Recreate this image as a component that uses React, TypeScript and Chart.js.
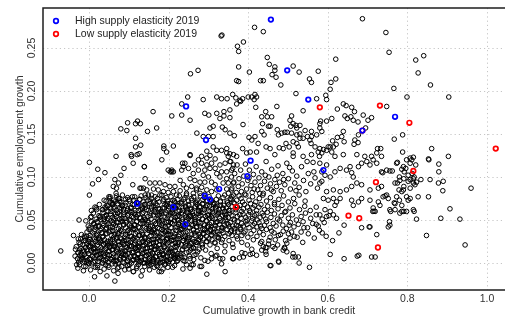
import { useEffect, useRef } from "react";
import { Chart, registerables } from "chart.js";

Chart.register(...registerables);

// Scatter of counties: cumulative growth in bank credit (x) vs cumulative employment growth (y).
// Values are stored as flat [x, y, x, y, ...] lists.

const upperLeft = [
  .332,.264, .334,.265, .373,.252, .388,.257, .376,.246, .376,.228, .403,.222, .371,.212, .376,.211, .255,.220,
  .274,.224, .233,.185, .248,.193, .233,.172, .208,.171, .254,.166, .287,.190, .291,.174, .301,.172, .321,.193,
  .333,.191, .347,.191, .361,.196, .369,.192, .379,.189, .386,.191, .400,.193, .371,.185, .381,.188, .339,.176,
  .354,.178, .321,.174, .329,.168, .339,.171, .354,.169, .387,.161, .312,.159, .304,.157, .335,.158, .342,.155,
  .354,.151, .365,.148, .271,.151, .287,.147, .300,.147, .312,.147, .402,.146, .386,.133, .312,.135, .321,.131,
  .333,.131, .346,.133, .296,.130, .254,.125, .283,.124, .296,.122, .346,.128, .354,.127, .363,.126, .371,.124,
  .396,.128, .405,.129, .161,.176, .170,.157, .147,.153, .122,.165, .117,.162, .129,.162, .097,.163, .095,.154,
  .080,.156, .117,.145, .117,.135, .130,.137, .188,.136, .188,.133, .195,.129, .212,.136, .106,.126, .126,.127,
  .068,.124, .350,.124, .304,.125, .317,.121,
];

const upperRight = [
  .416,.274, .438,.269, .687,.284, .746,.268, .754,.245, .821,.236, .841,.241, .827,.221, .858,.207, .904,.193,
  .799,.193, .766,.203, .620,.237, .620,.214, .608,.210, .606,.202, .595,.195, .597,.190, .513,.229, .528,.222,
  .576,.223, .448,.239, .453,.231, .467,.228, .467,.224, .460,.219, .470,.216, .431,.212, .438,.212, .482,.207,
  .554,.214, .559,.210, .520,.197, .572,.191, .538,.177, .417,.196, .421,.193, .409,.193, .415,.190, .419,.181,
  .472,.182, .444,.176, .434,.170, .448,.170, .459,.170, .436,.162, .451,.159, .455,.159, .509,.171, .505,.166,
  .513,.162, .507,.159, .520,.160, .530,.160, .522,.157, .473,.155, .484,.151, .492,.152, .498,.152, .476,.149,
  .509,.151, .522,.149, .530,.150, .543,.154, .559,.153, .572,.149, .559,.147, .580,.162, .580,.157, .582,.165,
  .597,.165, .610,.168, .585,.153, .624,.179, .639,.185, .646,.183, .660,.181, .667,.176, .658,.170, .676,.164,
  .664,.166, .643,.171, .649,.168, .689,.172, .710,.169, .701,.166, .748,.182, .695,.157, .624,.146, .639,.153,
  .635,.147, .612,.142, .621,.138, .614,.135, .641,.141, .606,.135, .677,.149, .668,.143, .666,.138, .676,.140,
  .788,.149, .767,.144, .861,.133, .903,.124, .788,.129, .725,.133, .733,.133, .723,.128, .853,.121, .807,.122,
  .815,.123, .568,.135, .580,.133, .589,.132, .597,.131, .585,.128, .576,.129, .601,.135, .610,.129, .555,.143,
  .549,.147, .538,.145, .558,.139, .513,.141, .522,.139, .530,.145, .526,.135, .503,.135, .495,.139, .488,.133,
  .478,.134, .434,.153, .440,.149, .417,.147, .425,.139, .409,.143, .445,.135, .455,.133, .467,.126, .421,.129,
  .513,.128, .513,.124, .538,.124, .559,.126, .579,.124, .618,.124, .639,.126, .673,.126, .693,.124, .710,.124,
  .735,.124,
];

const leftEdge = [
  .001,.117, .001,.079, .009,.092, .022,.109, .024,.097, .040,.105, .080,.102, .088,.110, .053,.077, .065,.097,
  .074,.093, .061,.089, .068,.081, .111,.116, .121,.126, .139,.112, .107,.124, .110,.091, .115,.077, .015,.065,
  .019,.062, .028,.054, .183,.120, .204,.106, .208,.108, .212,.106, .235,.116, .254,.126, .069,.087, .131,.087,
  -.071,.014, -.039,.032, -.025,.050, -.008,.049, .018,.064, .043,.064, .052,.075, .065,.071, .077,.075,
  .014,-.016, .045,-.015, .065,-.021, .073,-.012, .111,-.010, .131,-.015, .182,-.010, .254,-.006, .296,-.013,
  .333,-.001, .363,.005, .342,-.010, .329,.005, .321,.009, .308,.005, .291,.003, .283,-.004, .262,-.002,
  .245,-.002, .237,.003, .254,.005, .229,.009, .212,.007, .195,.003, .162,.002, .153,.000, .178,.000, .216,.005,
];

const farRight = [
  .960,.087, .945,.021, .932,.051, .907,.063, .884,.052, .848,.032, .823,.051, .817,.060, .786,.060, .791,.060,
  .767,.070, .773,.077, .798,.077, .786,.083, .827,.077, .853,.077, .889,.084, .878,.093, .890,.095, .857,.097,
  .834,.097, .802,.095, .791,.089, .779,.085, .775,.093, .780,.100, .791,.098, .812,.104, .817,.100, .807,.097,
  .815,.093, .773,.116, .786,.109, .792,.106, .796,.110, .811,.120, .821,.114, .854,.120, .879,.115, .879,.106,
  .756,.107, .762,.107, .738,.105, .748,.079, .755,.048, .752,.042, .744,.078, .739,.077, .716,.060, .713,.060,
  .723,.033, .719,.007, .710,.007, .678,.009, .674,.008, .641,.005, .606,.010, .641,.044, .685,.041, .704,.042,
  .554,-.005, .528,.000, .477,.001, .457,-.003, .445,.010, .411,.011, .444,.018, .434,.015, .497,.013, .512,.007,
  .491,.018, .526,.007, .802,.073, .769,.069, .780,.073, .758,.060,
];

const bottomCentre = [
  .455,-.003, .476,.002, .361,.005, .378,.006, .388,.007, .392,.011, .405,.010, .421,.009, .444,.013, .447,.018,
  .438,.019, .434,.025, .451,.022, .462,.019, .467,.017, .488,.015, .492,.017, .497,.023, .505,.029, .513,.011,
  .518,.007, .468,.027, .481,.033, .494,.026, .509,.036, .523,.030, .537,.024, .551,.034, .566,.029, .579,.038,
  .596,.031, .612,.026, .628,.035, .540,.041, .503,.044, .571,.045, .459,.037,
];

const lowRight = [
  .589,.075, .601,.073, .614,.075, .622,.071, .631,.075, .618,.067, .593,.062, .606,.060, .580,.056, .597,.054,
  .614,.056, .622,.052, .660,.073, .664,.067, .677,.071, .685,.075, .706,.073, .714,.064, .719,.060, .727,.071,
  .731,.067, .752,.075, .756,.062, .769,.062, .781,.058, .786,.067, .798,.060, .815,.062, .807,.075, .756,.044,
  .706,.042, .586,.035,
];

const midBandLeft = [
  .275,.120, .283,.116, .296,.114, .308,.116, .266,.114, .241,.116, .237,.112, .250,.110, .275,.108, .291,.108,
  .304,.110, .317,.110, .329,.114, .342,.116, .354,.118, .363,.114, .139,.112, .199,.108, .208,.106, .233,.108,
  .262,.104, .287,.102, .300,.100, .321,.104, .333,.106, .346,.106, .358,.108, .329,.100, .346,.098, .358,.100,
  .254,.098, .266,.096, .279,.094, .291,.094, .308,.094, .317,.091, .337,.093, .350,.093, .363,.093, .141,.098,
  .153,.093, .166,.093, .178,.093, .191,.091, .203,.089, .216,.089, .229,.096, .237,.091, .245,.087, .258,.089,
  .270,.087, .283,.088, .296,.085, .308,.083, .321,.085, .346,.086, .358,.085, .128,.087, .137,.087, .145,.085,
  .162,.086, .174,.085, .187,.083, .199,.082, .212,.083, .229,.084, .245,.081, .262,.081, .279,.081, .291,.080,
  .350,.081, .363,.079, .141,.079, .157,.079, .178,.079, .220,.079, .270,.085,
];

const midBandCentre = [
  .356,.118, .361,.110, .366,.104, .372,.114, .377,.098, .381,.108, .385,.092, .389,.101, .393,.115, .396,.086,
  .399,.096, .403,.108, .407,.090, .410,.082, .413,.103, .417,.094, .420,.112, .424,.085, .427,.099, .431,.090,
  .434,.106, .438,.081, .441,.095, .445,.118, .448,.087, .452,.100, .456,.092, .459,.109, .463,.083, .467,.097,
  .471,.089, .475,.113, .479,.094, .483,.084, .487,.104, .492,.091, .497,.116, .501,.098, .506,.086, .511,.107,
  .517,.093, .522,.101, .528,.088, .534,.112, .539,.096, .545,.083, .551,.104, .557,.092, .563,.117, .568,.099,
  .574,.087, .359,.087, .364,.094, .370,.082, .375,.089, .383,.083, .391,.080, .402,.099, .415,.086, .429,.081,
  .443,.102, .458,.085, .473,.102, .489,.097, .504,.111, .520,.084, .548,.118, .565,.106, .585,.095,
];

const midBandRight = [
  .580,.116, .597,.114, .585,.106, .593,.102, .606,.100, .618,.106, .631,.110, .647,.108, .656,.112, .660,.105,
  .664,.100, .677,.112, .685,.116, .698,.118, .706,.114, .714,.120, .723,.116, .735,.106, .748,.108, .775,.117,
  .798,.120, .807,.116, .790,.112, .802,.102, .815,.098, .823,.094, .781,.096, .769,.093, .735,.089, .727,.087,
  .706,.085, .685,.091, .673,.093, .660,.089, .647,.085, .631,.083, .614,.085, .597,.083, .580,.093, .790,.085,
  .807,.087, .819,.091,
];

// Dense core, one list per 0.01-wide employment-growth band.
const coreBelowZero = [
  -.028,-.006, -.024,-.002, -.014,-.009, -.008,-.004, .000,-.001, .004,-.008, .016,-.005, .022,-.003, .028,-.010,
  .038,-.007, .042,-.002, .050,-.005, .062,-.009, .066,-.001, .072,-.006, .082,-.004, .090,-.008, .096,-.003,
  .100,-.007, .112,-.010, .120,-.006, .124,-.002, .134,-.009, .140,-.004, .148,-.001, .152,-.008, .164,-.005,
  .170,-.003, .176,-.010, .186,-.007, .190,-.002, .198,-.005, .215,-.003, .236,-.007, .258,-.002, .279,-.004,
];

const core00 = [
  -.035,.008, -.029,.005, -.026,.001, -.023,.009, -.018,.004, -.016,.006, -.012,.002, -.006,.007, -.004,.003,
  -.001,.000, .004,.004, .008,.008, .011,.001, .013,.006, .019,.009, .023,.002, .025,.005, .030,.007, .033,.000,
  .037,.003, .039,.008, .045,.005, .048,.001, .051,.009, .056,.004, .058,.006, .062,.002, .068,.007, .070,.003,
  .073,.000, .078,.004, .082,.008, .085,.001, .087,.006, .093,.009, .097,.002, .099,.005, .104,.007, .107,.000,
  .111,.003, .113,.008, .119,.004, .122,.006, .125,.002, .130,.007, .132,.003, .136,.000, .142,.004, .144,.008,
  .147,.001, .152,.006, .156,.009, .159,.002, .161,.005, .167,.007, .171,.000, .173,.003, .178,.008, .181,.005,
  .185,.001, .187,.009, .193,.007, .196,.003, .199,.000, .204,.004, .206,.008, .210,.001, .216,.006, .218,.009,
  .221,.002, .226,.005, .233,.007, .241,.002, .252,.008, .263,.004, .281,.006, .299,.002, .318,.008, .336,.005,
];

const core01 = [
  -.034,.016, -.032,.019, -.027,.012, -.024,.015, -.020,.017, -.018,.010, -.012,.013, -.009,.018, -.006,.015,
  -.001,.011, .001,.019, .005,.014, .011,.016, .013,.012, .016,.017, .021,.013, .025,.010, .028,.014, .030,.018,
  .036,.011, .038,.015, .043,.017, .046,.010, .050,.013, .052,.018, .058,.015, .061,.011, .064,.019, .069,.014,
  .071,.016, .075,.012, .081,.017, .083,.013, .086,.010, .091,.014, .095,.018, .098,.011, .100,.016, .106,.019,
  .110,.012, .112,.013, .117,.018, .120,.015, .124,.011, .126,.019, .132,.014, .135,.016, .138,.012, .143,.017,
  .145,.013, .149,.010, .155,.014, .157,.018, .160,.011, .165,.016, .169,.019, .172,.012, .174,.015, .180,.017,
  .184,.010, .186,.011, .191,.019, .194,.014, .198,.016, .200,.012, .206,.017, .209,.013, .212,.010, .217,.014,
  .219,.018, .223,.011, .235,.016, .239,.019, .245,.012, .255,.015, .263,.017, .269,.010, .273,.013, .285,.018,
  .293,.015, .307,.011, .322,.017, .341,.013, .362,.018, .384,.012, .409,.016,
];

const core02 = [
  -.025,.024, -.021,.028, -.015,.021, -.013,.026, -.010,.029, -.005,.022, -.001,.025, .002,.027, .004,.020,
  .010,.023, .014,.028, .016,.025, .021,.021, .024,.029, .028,.024, .030,.026, .036,.022, .039,.027, .042,.023,
  .047,.020, .049,.022, .053,.025, .059,.027, .061,.020, .064,.023, .069,.028, .073,.025, .076,.021, .078,.029,
  .084,.024, .088,.026, .090,.022, .095,.027, .098,.023, .102,.020, .104,.024, .110,.028, .113,.021, .116,.026,
  .121,.029, .123,.020, .127,.023, .133,.028, .135,.025, .138,.021, .143,.029, .147,.024, .150,.026, .152,.022,
  .158,.027, .162,.023, .164,.020, .169,.024, .172,.028, .176,.021, .178,.026, .184,.029, .187,.022, .190,.025,
  .195,.027, .197,.029, .201,.024, .207,.026, .209,.022, .212,.027, .217,.023, .221,.020, .224,.024, .226,.028,
  .232,.021, .236,.026, .238,.029, .243,.022, .246,.025, .250,.027, .252,.020, .258,.023, .261,.028, .264,.025,
  .269,.021, .271,.024, .277,.027, .283,.022, .289,.028, .296,.025, .304,.021, .309,.027, .317,.023, .326,.029,
  .333,.024, .342,.020, .352,.026, .361,.022, .373,.028, .384,.024, .398,.021, .413,.027, .431,.023, .452,.026,
  .474,.021,
];

const core03 = [
  -.012,.031, -.005,.036, .000,.039, .003,.032, .009,.035, .013,.037, .018,.030, .021,.033, .028,.038, .032,.035,
  .036,.031, .042,.039, .045,.034, .050,.036, .057,.032, .060,.037, .064,.033, .070,.030, .075,.034, .079,.038,
  .082,.037, .089,.030, .092,.033, .098,.038, .102,.035, .107,.031, .110,.039, .117,.034, .121,.036, .125,.032,
  .131,.037, .134,.033, .139,.030, .146,.034, .149,.038, .153,.031, .159,.036, .164,.039, .168,.032, .171,.035,
  .178,.031, .183,.039, .186,.034, .192,.036, .196,.032, .201,.037, .204,.033, .211,.030, .215,.034, .219,.038,
  .225,.031, .228,.036, .233,.039, .240,.032, .243,.035, .247,.037, .253,.030, .258,.033, .262,.038, .265,.035,
  .272,.037, .277,.033, .280,.030, .286,.034, .290,.038, .295,.031, .298,.036, .305,.039, .309,.032, .313,.035,
  .319,.037, .322,.030, .327,.033, .334,.038, .337,.035, .341,.031, .347,.039, .352,.034, .356,.036, .359,.032,
  .366,.037, .371,.031, .374,.036, .380,.039, .384,.032, .389,.035, .392,.037, .399,.030, .407,.034, .414,.038,
  .422,.031, .429,.036, .438,.033, .446,.039, .455,.030, .465,.035, .476,.032, .488,.037, .501,.034, .516,.031,
  .533,.036,
];

const core04 = [
  -.002,.043, .006,.048, .012,.046, .016,.042, .022,.047, .025,.043, .030,.040, .037,.044, .040,.048, .044,.041,
  .050,.046, .055,.049, .059,.042, .062,.045, .069,.047, .074,.040, .077,.043, .083,.048, .087,.045, .092,.041,
  .095,.049, .102,.044, .106,.043, .112,.040, .115,.044, .120,.048, .127,.041, .130,.046, .134,.049, .140,.042,
  .145,.045, .149,.047, .152,.040, .159,.043, .164,.048, .167,.045, .173,.041, .177,.049, .182,.044, .185,.046,
  .192,.042, .196,.047, .200,.048, .206,.041, .209,.046, .214,.049, .221,.042, .224,.045, .228,.047, .234,.040,
  .239,.043, .243,.048, .246,.045, .253,.041, .258,.049, .261,.044, .267,.046, .271,.042, .276,.047, .279,.043,
  .286,.040, .290,.044, .294,.049, .300,.042, .303,.045, .308,.047, .315,.040, .318,.043, .322,.048, .328,.045,
  .333,.041, .337,.049, .340,.044, .347,.046, .352,.042, .355,.047, .361,.043, .365,.040, .370,.044, .373,.048,
  .380,.041, .384,.046, .388,.043, .394,.048, .397,.045, .402,.041, .409,.049, .412,.044, .416,.046, .422,.042,
  .427,.047, .431,.043, .434,.040, .441,.044, .446,.048, .455,.041, .463,.046, .470,.043, .479,.049, .487,.044,
  .496,.040, .506,.047, .515,.042, .526,.045, .538,.048, .549,.041, .562,.046, .576,.043, .591,.047,
];

const core05 = [
  .004,.053, .011,.058, .018,.051, .025,.055, .029,.051, .035,.059, .040,.054, .044,.056, .047,.052, .054,.057,
  .059,.053, .062,.050, .068,.054, .072,.058, .077,.051, .080,.056, .087,.059, .091,.052, .097,.055, .100,.057,
  .105,.050, .112,.053, .115,.058, .119,.054, .123,.056, .129,.052, .134,.057, .138,.053, .141,.050, .148,.054,
  .153,.058, .156,.051, .162,.056, .166,.059, .171,.052, .174,.055, .181,.057, .185,.050, .191,.053, .194,.058,
  .199,.055, .206,.051, .209,.059, .213,.057, .217,.053, .223,.050, .228,.054, .232,.058, .235,.051, .242,.056,
  .247,.059, .250,.052, .256,.055, .260,.057, .265,.050, .268,.053, .275,.058, .279,.055, .285,.051, .288,.059,
  .293,.054, .300,.056, .303,.052, .307,.054, .311,.058, .317,.051, .322,.056, .326,.059, .329,.052, .336,.055,
  .341,.057, .344,.050, .350,.053, .354,.058, .359,.055, .362,.051, .369,.059, .373,.054, .379,.056, .382,.052,
  .387,.057, .394,.053, .397,.050, .401,.056, .405,.059, .411,.052, .416,.055, .420,.057, .423,.050, .430,.053,
  .435,.058, .438,.055, .444,.051, .448,.059, .457,.053, .466,.057, .474,.051, .483,.055, .492,.059, .501,.052,
  .511,.056, .521,.050, .533,.054, .544,.058, .557,.052, .571,.056, .586,.051, .603,.055,
];

const core06 = [
  .006,.061, .026,.068, .033,.062, .040,.065, .045,.067, .048,.060, .055,.063, .059,.068, .063,.065, .069,.061,
  .072,.069, .077,.064, .084,.066, .087,.062, .091,.067, .097,.063, .102,.060, .106,.064, .109,.068, .116,.061,
  .121,.066, .124,.069, .130,.062, .134,.063, .139,.068, .142,.065, .149,.061, .153,.069, .157,.064, .163,.066,
  .166,.062, .171,.067, .178,.063, .181,.060, .185,.064, .191,.068, .196,.061, .200,.066, .203,.069, .210,.062,
  .215,.065, .218,.067, .224,.060, .228,.061, .233,.069, .236,.064, .243,.066, .247,.062, .251,.067, .257,.063,
  .260,.060, .265,.064, .272,.068, .275,.061, .279,.066, .285,.069, .290,.062, .294,.065, .297,.067, .304,.060,
  .309,.063, .312,.068, .318,.065, .322,.066, .327,.062, .330,.067, .337,.063, .341,.060, .345,.064, .351,.068,
  .354,.061, .359,.066, .366,.069, .369,.062, .373,.065, .379,.067, .384,.060, .388,.063, .391,.068, .398,.065,
  .403,.061, .406,.069, .412,.064, .416,.067, .421,.061, .427,.065, .432,.068, .441,.062, .449,.066, .458,.061,
  .466,.068, .475,.063, .485,.067, .494,.060, .505,.064, .517,.069, .529,.062, .542,.066, .556,.061, .571,.065,
];

const core07 = [
  .043,.072, .050,.077, .058,.070, .062,.073, .069,.078, .074,.075, .080,.071, .084,.079, .092,.074, .097,.076,
  .102,.072, .109,.077, .113,.073, .119,.070, .127,.074, .131,.078, .136,.071, .143,.076, .149,.079, .154,.072,
  .158,.075, .166,.077, .172,.075, .176,.071, .183,.079, .188,.074, .194,.076, .198,.072, .206,.077, .211,.073,
  .216,.070, .223,.074, .227,.078, .233,.071, .241,.076, .245,.079, .250,.072, .257,.075, .263,.077, .268,.070,
  .272,.073, .280,.078, .286,.074, .290,.076, .297,.072, .302,.077, .308,.073, .312,.070, .320,.074, .325,.078,
  .330,.071, .337,.076, .341,.079, .347,.072, .355,.075, .359,.077, .364,.070, .371,.073, .377,.078, .382,.075,
  .386,.071, .394,.079, .402,.073, .411,.077, .419,.071, .428,.075, .437,.079, .446,.072, .456,.076, .466,.070,
  .477,.074, .489,.078, .501,.071, .514,.075, .528,.079, .543,.072,
];

// Second layer of the dense core, in 0.02-wide bands.
const coreFillA = [
  -.031,-.002, -.028,.012, -.023,.004, -.019,.007, -.013,-.004, -.011,.010, -.006,.001, -.003,.014, .001,.005,
  .007,-.001, .010,.008, .015,.002, .017,.013, .021,-.005, .027,.006, .030,.011, .035,.000, .039,.009, .042,.003,
  .048,-.003, .050,.014, .053,.005, .058,-.001, .062,.008, .068,.002, .070,.013, .075,-.005, .078,.006, .082,.011,
  .088,.000, .091,.009, .096,.003, .098,-.003, .102,-.002, .108,.012, .111,.004, .116,.007, .120,-.004, .123,.010,
  .129,.001, .131,.006, .134,.011, .139,.000, .143,.009, .149,.003, .151,-.003, .156,-.002, .159,.012, .163,.004,
  .169,.007, .172,-.004, .177,.010, .179,.001, .183,.014, .189,.005, .192,-.001, .197,.008, .201,.002, .204,.013,
  .210,-.005, .216,.008, .223,.003, .231,.011, .240,.006, .251,.013, .264,.009,
];

const coreFillB = [
  -.027,.028, -.022,.022, -.019,.033, -.015,.015, -.009,.026, -.006,.031, -.001,.020, .001,.029, .005,.023,
  .011,.017, .014,.018, .019,.032, .023,.024, .026,.027, .032,.016, .034,.030, .037,.021, .042,.034, .046,.025,
  .052,.019, .054,.027, .059,.016, .062,.030, .066,.021, .072,.034, .075,.025, .080,.019, .082,.028, .086,.022,
  .092,.033, .095,.015, .100,.026, .104,.031, .107,.020, .113,.029, .115,.023, .118,.017, .123,.018, .127,.032,
  .133,.024, .135,.020, .140,.029, .143,.023, .147,.017, .153,.018, .156,.032, .161,.024, .163,.027, .167,.016,
  .173,.030, .176,.021, .181,.034, .185,.025, .188,.019, .194,.028, .196,.022, .199,.033, .204,.015, .208,.026,
  .214,.031, .216,.019, .221,.028, .224,.022, .228,.033, .234,.015, .237,.026, .242,.031, .244,.020, .248,.029,
  .254,.023, .257,.017, .262,.018, .266,.032, .269,.024, .275,.027, .277,.016, .280,.030, .285,.021, .289,.034,
  .295,.025, .301,.028, .308,.033, .316,.024, .325,.030, .335,.027,
];

const coreFillC = [
  .002,.041, .006,.054, .012,.045, .015,.039, .020,.048, .024,.042, .027,.053, .033,.035, .035,.046, .038,.051,
  .043,.040, .047,.049, .053,.043, .055,.037, .060,.038, .063,.052, .067,.044, .073,.047, .076,.036, .081,.050,
  .083,.052, .087,.044, .093,.047, .096,.036, .101,.050, .105,.041, .108,.054, .114,.045, .116,.039, .119,.048,
  .124,.042, .128,.053, .134,.035, .136,.046, .141,.051, .144,.040, .148,.049, .154,.043, .157,.037, .162,.038,
  .164,.035, .168,.046, .174,.051, .177,.040, .182,.049, .186,.043, .189,.037, .195,.038, .197,.052, .200,.044,
  .205,.047, .209,.036, .215,.050, .217,.041, .222,.054, .225,.045, .229,.039, .235,.048, .238,.042, .243,.053,
  .245,.050, .249,.041, .255,.054, .258,.045, .263,.039, .267,.048, .270,.042, .276,.053, .278,.035, .281,.046,
  .286,.051, .290,.040, .296,.049, .298,.043, .303,.037, .306,.038, .310,.052, .316,.044, .319,.047, .324,.036,
  .330,.049, .336,.041, .343,.053, .350,.045, .358,.038, .366,.050, .375,.043,
];

const coreFillD = [
  .035,.062, .038,.073, .043,.055, .047,.066, .053,.071, .055,.060, .060,.069, .063,.063, .067,.057, .073,.058,
  .076,.072, .081,.064, .083,.067, .087,.056, .093,.070, .096,.061, .101,.074, .105,.065, .108,.059, .114,.068,
  .116,.056, .119,.070, .124,.061, .128,.074, .134,.065, .136,.059, .141,.068, .144,.062, .148,.073, .154,.055,
  .157,.066, .162,.071, .164,.060, .168,.069, .174,.063, .177,.057, .182,.058, .186,.072, .189,.064, .195,.067,
  .197,.069, .200,.063, .205,.057, .209,.058, .215,.072, .217,.064, .222,.067, .225,.056, .229,.070, .235,.061,
  .238,.074, .243,.065, .245,.059, .249,.068, .255,.062, .258,.073, .263,.055, .267,.066, .270,.071, .276,.060,
  .278,.065, .281,.059, .286,.068, .290,.062, .296,.073, .298,.055, .303,.066, .306,.071, .310,.060, .316,.069,
  .319,.063, .324,.057, .326,.058, .330,.072, .336,.064, .339,.067, .344,.056, .348,.070, .351,.061, .357,.074,
];

const highElasticity = [
  .457,.283, .498,.224, .551,.190, .244,.182, .294,.143, .769,.170, .687,.154, .406,.119, .398,.101, .589,.108,
  .327,.086, .291,.078, .304,.074, .212,.065, .121,.069, .242,.045,
];

const lowElasticity = [
  .580,.181, .731,.183, .805,.163, .687,.154, 1.022,.133, .815,.107, .721,.094, .369,.065, .652,.055, .679,.052,
  .726,.018,
];

const xTicks = [0, 0.2, 0.4, 0.6, 0.8, 1.0];
const xTickLabels = ["0.0", "0.2", "0.4", "0.6", "0.8", "1.0"];
const yTicks = [0, 0.05, 0.1, 0.15, 0.2, 0.25];
const yTickLabels = ["0.00", "0.05", "0.10", "0.15", "0.20", "0.25"];

const xTitle = "Cumulative growth in bank credit";
const yTitle = "Cumulative employment growth";
const highLabel = "High supply elasticity 2019";
const lowLabel = "Low supply elasticity 2019";

const BLUE = "#0000ff";
const RED = "#ff0000";
const FONT = '10.5px "Liberation Sans", Arial, sans-serif';

const toPoints = (flat: number[]) => {
  const out: { x: number; y: number }[] = [];
  for (let i = 0; i + 1 < flat.length; i += 2) out.push({ x: flat[i], y: flat[i + 1] });
  return out;
};

const allOthers = [
  upperLeft, upperRight, leftEdge, farRight, bottomCentre, lowRight, midBandLeft, midBandCentre, midBandRight,
  coreBelowZero, core00, core01, core02, core03, core04, core05, core06, core07,
  coreFillA, coreFillB, coreFillC, coreFillD,
].flatMap(toPoints);

const ringStyle = (color: string, width: number) => ({
  pointStyle: "circle" as const,
  pointRadius: 2.3,
  pointHoverRadius: 2.3,
  pointBorderWidth: width,
  pointBorderColor: color,
  pointBackgroundColor: "rgba(0,0,0,0)",
  showLine: false,
});

const framePlugin = {
  id: "rFrame",
  beforeDatasetsDraw(chart: any) {
    const { ctx, chartArea: a, scales } = chart;
    ctx.save();
    ctx.strokeStyle = "#c6c6c6";
    ctx.lineWidth = 1;
    ctx.setLineDash([1.2, 3]);
    xTicks.forEach((v) => {
      const px = Math.round(scales.x.getPixelForValue(v)) + 0.5;
      ctx.beginPath();
      ctx.moveTo(px, a.top);
      ctx.lineTo(px, a.bottom);
      ctx.stroke();
    });
    yTicks.forEach((v) => {
      const py = Math.round(scales.y.getPixelForValue(v)) + 0.5;
      ctx.beginPath();
      ctx.moveTo(a.left, py);
      ctx.lineTo(a.right, py);
      ctx.stroke();
    });
    ctx.restore();
  },
  afterDatasetsDraw(chart: any) {
    const { ctx, chartArea: a, scales } = chart;
    ctx.save();
    // plot frame
    ctx.strokeStyle = "#1e1e1e";
    ctx.lineWidth = 1.5;
    ctx.beginPath();
    ctx.moveTo(a.right, a.top);
    ctx.lineTo(a.left, a.top);
    ctx.lineTo(a.left, a.bottom);
    ctx.lineTo(a.right, a.bottom);
    ctx.stroke();

    // tick labels
    ctx.font = FONT;
    ctx.fillStyle = "#333333";
    ctx.textAlign = "center";
    ctx.textBaseline = "middle";
    xTicks.forEach((v, i) => {
      ctx.fillText(xTickLabels[i], scales.x.getPixelForValue(v), a.bottom + 9.5);
    });
    yTicks.forEach((v, i) => {
      ctx.save();
      ctx.translate(a.left - 10.5, scales.y.getPixelForValue(v));
      ctx.rotate(-Math.PI / 2);
      ctx.fillText(yTickLabels[i], 0, 0);
      ctx.restore();
    });

    // axis titles
    ctx.fillText(xTitle, (a.left + a.right) / 2, a.bottom + 21.5);
    ctx.save();
    ctx.translate(20.5, (a.top + a.bottom) / 2);
    ctx.rotate(-Math.PI / 2);
    ctx.fillText(yTitle, 0, 0);
    ctx.restore();

    // legend
    const entries = [
      { label: highLabel, color: BLUE },
      { label: lowLabel, color: RED },
    ];
    entries.forEach((e, i) => {
      const cy = a.top + 13 + i * 13;
      ctx.beginPath();
      ctx.strokeStyle = e.color;
      ctx.lineWidth = 1.7;
      ctx.arc(a.left + 13, cy, 2.3, 0, Math.PI * 2);
      ctx.stroke();
      ctx.fillStyle = "#222222";
      ctx.textAlign = "left";
      ctx.fillText(e.label, a.left + 32, cy);
    });
    ctx.restore();
  },
};

export default function App() {
  const canvasRef = useRef<HTMLCanvasElement | null>(null);

  useEffect(() => {
    const canvas = canvasRef.current;
    if (!canvas) return;
    const chart = new Chart(canvas, {
      type: "scatter",
      data: {
        datasets: [
          { label: highLabel, data: toPoints(highElasticity), ...ringStyle(BLUE, 1.7) },
          { label: lowLabel, data: toPoints(lowElasticity), ...ringStyle(RED, 1.7) },
          { label: "Other counties", data: allOthers, ...ringStyle("#000000", 1) },
        ],
      },
      options: {
        responsive: false,
        animation: false,
        devicePixelRatio: 1,
        events: [],
        layout: { padding: { left: 43, top: 8, right: 5, bottom: 30 } },
        plugins: { legend: { display: false }, tooltip: { enabled: false }, title: { display: false } },
        scales: {
          x: { type: "linear", min: -0.1156, max: 1.0704, display: false },
          y: { type: "linear", min: -0.0314, max: 0.2965, display: false },
        },
      },
      plugins: [framePlugin],
    });
    return () => chart.destroy();
  }, []);

  return (
    <div
      style={{
        position: "fixed",
        left: 0,
        top: 0,
        width: 505,
        height: 320,
        overflow: "hidden",
        background: "#ffffff",
      }}
    >
      <canvas ref={canvasRef} width={520} height={320} style={{ display: "block", width: 520, height: 320 }} />
    </div>
  );
}
